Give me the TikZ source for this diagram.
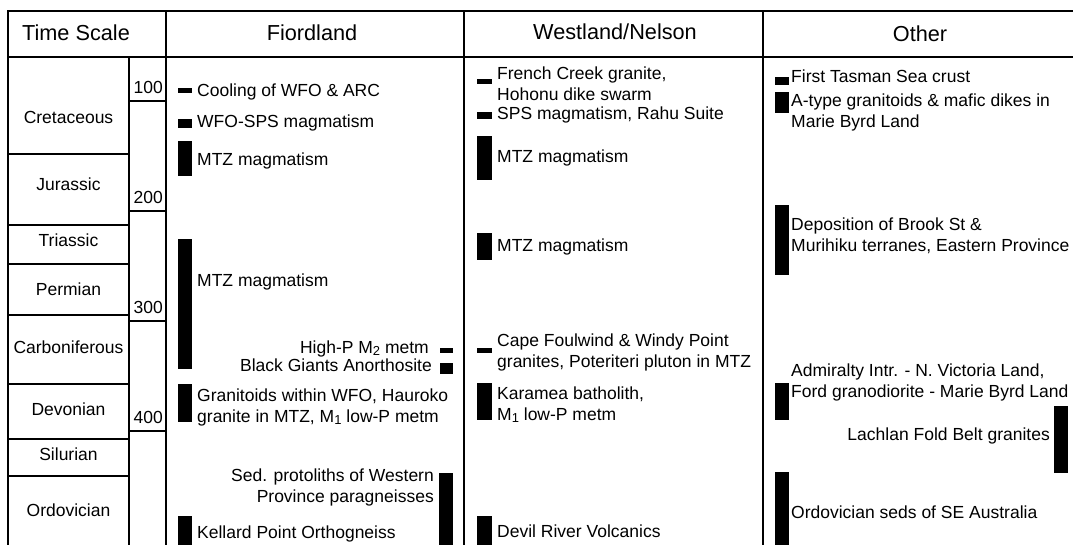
\documentclass[tikz,border=0pt]{standalone}
\usepackage{fontspec}
\setmainfont{Liberation Sans}
\newcommand{\lowsub}[1]{\raisebox{-0.3ex}{\fontsize{13}{13}\selectfont #1}}

\begin{document}
\begin{tikzpicture}[
    x=1pt, y=-1pt,
    frame/.style={line width=2pt},
    head/.style={font=\fontsize{21.7}{26}\selectfont, inner sep=0pt, anchor=base},
    period/.style={font=\fontsize{17.5}{21}\selectfont, inner sep=0pt, anchor=base},
    age/.style={font=\fontsize{17.5}{21}\selectfont, inner sep=0pt, anchor=base east},
    event/.style={font=\fontsize{17.5}{21}\selectfont, inner sep=0pt, align=left, anchor=base west},
    eventr/.style={font=\fontsize{17.5}{21}\selectfont, inner sep=0pt, align=right, anchor=base east},
    evbar/.style={fill=black}
]
\useasboundingbox (0,0) rectangle (1073,545);
\clip (0,0) rectangle (1073,545);

% Frame and columns
\draw[frame] (8,560) -- (8,11.5) -- (1090,11.5);
\draw[frame] (8,56.7) -- (1090,56.7);
\draw[frame] (129,56.7) -- (129,560);
\draw[frame] (165.5,11.5) -- (165.5,560);
\draw[frame] (464,11.5) -- (464,560);
\draw[frame] (763,11.5) -- (763,560);

% Headers
\node[head] (hTime) at (76,41) {Time Scale};
\node[head] (hFiord) at (312,41) {Fiordland};
\node[head] (hWest) at (615,40) {Westland/Nelson};
\node[head] (hOther) at (920,42) {Other};

% Time scale: periods
\foreach \y in {154,225,264,315,384,439,476}
    \draw[frame] (8,\y) -- (129,\y);
\node[period] (pCret) at (68.5,124) {Cretaceous};
\node[period] (pJur) at (68.5,191) {Jurassic};
\node[period] (pTri) at (68.5,247) {Triassic};
\node[period] (pPerm) at (68.5,295) {Permian};
\node[period] (pCarb) at (68.5,353) {Carboniferous};
\node[period] (pDev) at (68.5,415) {Devonian};
\node[period] (pSil) at (68.5,460) {Silurian};
\node[period] (pOrd) at (68.5,516) {Ordovician};

% Time scale: ages
\foreach \y/\a in {101/100,211/200,321/300,431/400} {
    \draw[frame] (129,\y) -- (165.5,\y);
    \node[age] (age\a) at (163,\y-7.5) {\a};
}

% Fiordland
\fill[evbar] (178,88) rectangle (192,93);
\fill[evbar] (178,119) rectangle (192,128);
\fill[evbar] (178,141) rectangle (192,176);
\fill[evbar] (178,239) rectangle (192,369);
\fill[evbar] (440,348) rectangle (453,353);
\fill[evbar] (440,363) rectangle (453,374);
\fill[evbar] (178,384) rectangle (192,422);
\fill[evbar] (439,473) rectangle (453,560);
\fill[evbar] (178,516) rectangle (192,560);
\node[event] (fCool) at (197,97) {Cooling of WFO \& ARC};
\node[event] (fSps) at (197,128) {WFO-SPS magmatism};
\node[event] (fMtzA) at (197,166) {MTZ magmatism};
\node[event] (fMtzB) at (197,287) {MTZ magmatism};
\node[eventr] (fHighP) at (429,353) {High-P M\lowsub{2} metm};
\node[eventr] (fBlack) at (432,371) {Black Giants Anorthosite};
\node[event] (fGran) at (197,422) {Granitoids within WFO, Hauroko\\granite in MTZ, M\lowsub{1} low-P metm};
\node[eventr] (fSed) at (434,502) {Sed. protoliths of Western\\Province paragneisses};
\node[event] (fKell) at (197,538) {Kellard Point Orthogneiss};

% Westland/Nelson
\fill[evbar] (477,79) rectangle (492,84);
\fill[evbar] (477,112) rectangle (492,119);
\fill[evbar] (477,136) rectangle (492,180);
\fill[evbar] (477,233) rectangle (492,260);
\fill[evbar] (477,348) rectangle (492,353);
\fill[evbar] (477,383) rectangle (492,420);
\fill[evbar] (477,516) rectangle (492,560);
\node[event] (wFrench) at (497,101) {French Creek granite,\\Hohonu dike swarm};
\node[event] (wSps) at (497,120) {SPS magmatism, Rahu Suite};
\node[event] (wMtzA) at (497,163) {MTZ magmatism};
\node[event] (wMtzB) at (497,252) {MTZ magmatism};
\node[event] (wCape) at (497,367) {Cape Foulwind \& Windy Point\\granites, Poteriteri pluton in MTZ};
\node[event] (wKara) at (497,420) {Karamea batholith,\\M\lowsub{1} low-P metm};
\node[event] (wDevil) at (497,537) {Devil River Volcanics};

% Other
\fill[evbar] (775,77) rectangle (789,85);
\fill[evbar] (775,92) rectangle (789,113);
\fill[evbar] (775,205) rectangle (789,275);
\fill[evbar] (775,383) rectangle (789,420);
\fill[evbar] (1054,406) rectangle (1068,473);
\fill[evbar] (775,472) rectangle (789,560);
\node[event] (oTasman) at (791,83) {First Tasman Sea crust};
\node[event] (oAtype) at (791,128) {A-type granitoids \& mafic dikes in\\Marie Byrd Land};
\node[event] (oBrook) at (791,252) {Deposition of Brook St \&\\Murihiku terranes, Eastern Province};
\node[event] (oAdmir) at (791,397) {Admiralty Intr. - N. Victoria Land,\\Ford granodiorite - Marie Byrd Land};
\node[eventr] (oLach) at (1050,440) {Lachlan Fold Belt granites};
\node[event] (oOrdo) at (791,518) {Ordovician seds of SE Australia};

\end{tikzpicture}
\end{document}
